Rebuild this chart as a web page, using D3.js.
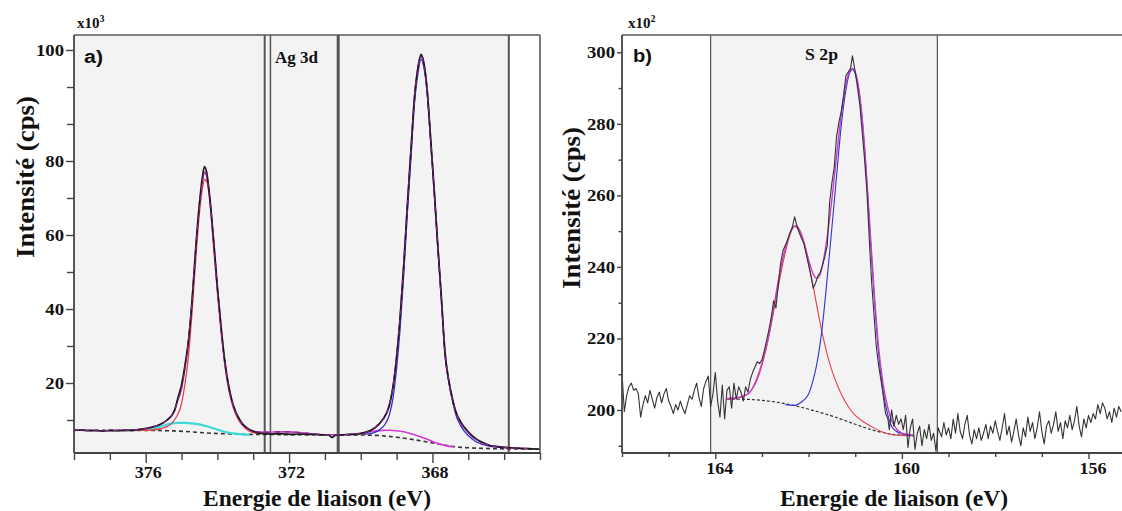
<!DOCTYPE html>
<html><head><meta charset="utf-8">
<script src="https://cdn.jsdelivr.net/npm/d3@7"></script>
<style>body{margin:0;background:#fff;} svg{display:block;}</style>
</head><body>
<svg id="chart" width="1122" height="511"></svg>
<script>
// ---------------- Panel a) Ag 3d (intensity in x10^3 cps, label units) ----------------
const agYMajor = [100, 80, 60, 40, 20];
const agYMinor = [93.33, 86.67, 70, 50, 30, 10];
const agXMajor = [376, 372, 368];
const agXMinor = [378, 377, 375, 374, 373, 371, 370, 369, 367, 366, 365];
const agRegionLines = [372.68, 372.52, 370.63, 365.87];
const agShade = [378, 365.87];
const agExp = [[378.0,7.2],[377.8,7.3],[377.6,7.1],[377.4,7.2],[377.2,7.0],[377.0,7.2],[376.8,7.1],[376.6,7.2],[376.4,7.2],[376.2,7.4],[376.0,7.7],[375.8,8.1],[375.6,8.8],[375.4,10.0],[375.2,12.5],[375.1,16.0],[375.0,19.5],[374.9,25.0],[374.8,32.0],[374.7,43.0],[374.6,57.0],[374.5,68.5],[374.42,75.5],[374.36,78.5],[374.3,77.0],[374.22,71.0],[374.1,58.0],[374.0,46.0],[373.9,35.5],[373.8,26.5],[373.7,20.0],[373.6,15.5],[373.5,12.5],[373.4,10.5],[373.3,9.0],[373.1,7.4],[372.9,6.6],[372.7,6.3],[372.5,6.2],[372.3,6.3],[372.1,6.2],[371.9,6.1],[371.7,6.2],[371.5,6.1],[371.3,6.1],[371.1,6.0],[370.9,6.0],[370.8,5.3],[370.7,5.9],[370.5,6.0],[370.3,6.1],[370.1,6.2],[369.9,6.6],[369.7,7.3],[369.5,8.8],[369.3,11.5],[369.2,14.0],[369.1,19.0],[369.0,27.0],[368.9,38.0],[368.8,52.0],[368.7,68.0],[368.6,82.0],[368.5,91.5],[368.4,97.0],[368.32,99.2],[368.25,98.0],[368.15,93.0],[368.05,84.0],[367.95,72.0],[367.85,57.0],[367.75,43.0],[367.65,28.0],[367.55,21.0],[367.45,16.0],[367.35,12.3],[367.2,9.3],[367.0,6.8],[366.8,5.0],[366.6,3.9],[366.4,3.1],[366.2,2.8],[366.0,2.6],[365.8,2.5],[365.5,2.3],[365.2,2.2],[365.0,2.1]];
const agEnvelope = [[378.0,7.3],[377.6,7.2],[377.2,7.1],[376.8,7.2],[376.4,7.3],[376.0,7.7],[375.8,8.1],[375.6,8.8],[375.4,10.0],[375.2,12.4],[375.1,15.5],[375.0,18.5],[374.9,24.5],[374.8,32.0],[374.7,43.0],[374.6,56.5],[374.5,68.0],[374.42,74.5],[374.36,77.0],[374.3,76.0],[374.22,70.5],[374.1,57.5],[374.0,45.5],[373.9,35.0],[373.8,26.0],[373.7,19.8],[373.6,15.3],[373.5,12.3],[373.4,10.3],[373.3,8.8],[373.1,7.4],[372.9,6.8],[372.6,6.7],[372.3,6.8],[372.0,6.8],[371.7,6.6],[371.4,6.3],[371.1,6.1],[370.8,6.0],[370.5,6.0],[370.2,6.2],[369.9,6.6],[369.7,7.3],[369.5,8.8],[369.3,11.5],[369.2,14.2],[369.1,19.0],[369.0,27.0],[368.9,38.0],[368.8,52.0],[368.7,68.0],[368.6,82.0],[368.5,91.5],[368.4,97.0],[368.32,98.8],[368.25,97.8],[368.15,92.8],[368.05,83.8],[367.95,71.8],[367.85,56.8],[367.75,42.5],[367.65,28.5],[367.55,21.0],[367.45,16.0],[367.35,12.2],[367.2,9.0],[367.0,6.6],[366.8,4.9],[366.6,3.8],[366.4,3.1],[366.2,2.8],[366.0,2.6],[365.6,2.4],[365.2,2.2]];
const agRed = [[376.2,7.2],[375.8,7.3],[375.4,8.2],[375.2,10.0],[375.0,14.5],[374.9,20.0],[374.8,28.0],[374.7,40.0],[374.6,54.0],[374.5,66.0],[374.42,72.5],[374.35,75.0],[374.28,74.0],[374.2,68.0],[374.1,56.0],[374.0,44.5],[373.9,34.0],[373.8,25.5],[373.7,19.0],[373.6,14.8],[373.5,11.8],[373.4,9.8],[373.2,7.6],[373.0,6.6],[372.8,6.3]];
const agCyan = [[375.9,7.4],[375.7,7.9],[375.5,8.5],[375.3,9.0],[375.1,9.2],[374.9,9.25],[374.7,9.1],[374.5,8.8],[374.3,8.3],[374.1,7.7],[373.9,7.1],[373.7,6.6],[373.5,6.3],[373.3,6.1],[373.1,6.0]];
const agBlue = [[369.9,6.2],[369.7,6.4],[369.5,7.2],[369.3,9.2],[369.2,11.5],[369.1,16.0],[369.0,24.0],[368.9,35.0],[368.8,49.5],[368.7,66.0],[368.6,80.5],[368.5,90.5],[368.4,96.0],[368.32,98.3],[368.25,97.2],[368.15,92.3],[368.05,83.5],[367.95,71.5],[367.85,56.5],[367.75,42.5],[367.65,27.5],[367.55,20.5],[367.45,15.5],[367.35,11.5],[367.2,8.2],[367.0,5.8],[366.8,4.2],[366.6,3.4],[366.4,2.9],[366.2,2.7],[366.0,2.5]];
const agMagentaSat = [[370.2,6.1],[370.0,6.3],[369.8,6.7],[369.6,7.0],[369.4,7.2],[369.2,7.25],[369.0,7.1],[368.8,6.8],[368.6,6.3],[368.4,5.7],[368.2,5.0],[368.0,4.2],[367.8,3.5],[367.6,3.0],[367.4,2.8]];
const agBackground = [[378.0,7.25],[377.0,7.2],[376.2,7.2],[375.6,7.15],[375.2,7.05],[374.9,6.9],[374.6,6.7],[374.3,6.5],[374.0,6.35],[373.7,6.25],[373.4,6.15],[373.0,6.1],[372.0,6.05],[371.0,6.0],[370.0,5.95],[369.6,5.85],[369.3,5.65],[369.0,5.35],[368.7,4.95],[368.4,4.5],[368.1,4.0],[367.8,3.45],[367.5,2.95],[367.2,2.6],[366.9,2.45],[366.5,2.3],[366.0,2.2],[365.5,2.15],[365.0,2.1]];

// ---------------- Panel b) S 2p (intensity in x10^2 cps) ----------------
const sYMajor = [300, 280, 260, 240, 220, 200];
const sYMinor = [290, 270, 250, 230, 210, 190];
const sXMajor = [164, 160, 156];
const sXMinor = [166, 165, 163, 162, 161, 159, 158, 157, 155];
const sRegionLines = [164.1, 159.24];
const sShade = [164.1, 159.24];
const sExp = [[166.00,210.5],[165.95,199.5],[165.90,204.0],[165.85,206.5],[165.80,207.5],[165.75,205.5],[165.70,206.0],[165.65,204.5],[165.60,198.0],[165.55,201.5],[165.50,204.0],[165.45,202.0],[165.40,205.5],[165.35,203.0],[165.30,200.5],[165.25,203.5],[165.20,205.0],[165.15,202.0],[165.10,204.5],[165.05,206.0],[165.00,202.5],[164.95,201.0],[164.90,199.0],[164.85,201.5],[164.80,200.0],[164.75,202.5],[164.70,200.5],[164.65,199.0],[164.60,201.5],[164.55,204.0],[164.50,203.0],[164.45,205.5],[164.40,207.5],[164.35,203.5],[164.30,201.0],[164.25,206.0],[164.20,208.0],[164.15,209.5],[164.10,201.0],[164.05,204.5],[164.00,210.5],[163.95,202.5],[163.90,198.0],[163.85,207.0],[163.80,197.5],[163.75,205.5],[163.70,206.5],[163.65,200.5],[163.60,207.5],[163.55,203.0],[163.50,206.5],[163.45,205.0],[163.40,202.5],[163.35,206.5],[163.30,205.0],[163.25,208.5],[163.20,210.5],[163.15,212.0],[163.10,213.5],[163.05,213.0],[163.00,214.0],[162.95,216.5],[162.90,219.5],[162.85,222.5],[162.80,226.0],[162.75,230.5],[162.70,228.5],[162.65,235.0],[162.60,241.0],[162.55,244.5],[162.50,246.0],[162.45,247.5],[162.40,249.5],[162.35,251.0],[162.30,254.0],[162.25,251.5],[162.20,249.5],[162.15,248.0],[162.10,246.5],[162.05,243.5],[162.00,240.5],[161.95,237.5],[161.90,234.0],[161.85,235.5],[161.80,237.5],[161.75,238.5],[161.70,240.5],[161.65,243.0],[161.60,246.0],[161.55,258.0],[161.50,263.5],[161.45,268.0],[161.40,276.5],[161.35,280.5],[161.30,283.5],[161.25,288.0],[161.20,293.5],[161.15,294.5],[161.10,295.5],[161.06,299.0],[161.00,294.5],[160.95,290.0],[160.90,285.0],[160.85,277.5],[160.80,270.0],[160.75,261.0],[160.70,248.0],[160.65,236.0],[160.60,227.0],[160.55,218.0],[160.50,212.5],[160.45,208.5],[160.40,204.0],[160.35,199.0],[160.30,197.5],[160.27,194.5],[160.22,200.0],[160.17,195.5],[160.12,198.5],[160.07,196.0],[160.02,197.5],[159.97,194.5],[159.92,198.5],[159.87,189.5],[159.82,195.0],[159.77,197.5],[159.72,189.0],[159.67,193.5],[159.62,195.5],[159.57,190.0],[159.52,194.5],[159.47,192.0],[159.42,196.0],[159.37,191.5],[159.32,193.5],[159.27,188.5],[159.22,195.0],[159.15,192.5],[159.10,196.5],[159.05,193.0],[159.00,195.0],[158.95,192.0],[158.90,197.5],[158.85,193.5],[158.80,199.0],[158.75,194.0],[158.70,192.0],[158.65,196.0],[158.60,198.5],[158.55,193.0],[158.50,190.5],[158.45,194.5],[158.40,192.0],[158.35,195.0],[158.30,191.5],[158.25,193.5],[158.20,196.0],[158.15,192.0],[158.10,195.5],[158.05,193.5],[158.00,197.0],[157.95,194.0],[157.90,191.5],[157.85,195.0],[157.80,199.0],[157.75,193.0],[157.70,195.5],[157.65,191.0],[157.60,194.0],[157.55,197.5],[157.50,193.0],[157.45,190.0],[157.40,195.0],[157.35,192.5],[157.30,198.0],[157.25,194.0],[157.20,196.5],[157.15,192.0],[157.10,195.0],[157.05,199.5],[157.00,194.0],[156.95,190.5],[156.90,195.5],[156.85,197.0],[156.80,193.5],[156.75,196.0],[156.70,199.5],[156.65,194.0],[156.60,196.5],[156.55,192.0],[156.50,197.0],[156.45,195.0],[156.40,198.5],[156.35,194.5],[156.30,197.0],[156.25,201.0],[156.20,195.5],[156.15,192.5],[156.10,197.5],[156.05,195.0],[156.00,198.5],[155.95,196.5],[155.90,199.0],[155.85,197.5],[155.80,201.5],[155.75,199.0],[155.70,202.0],[155.65,200.5],[155.60,197.5],[155.55,199.5],[155.50,196.5],[155.45,200.5],[155.40,198.0],[155.35,201.0],[155.30,199.5]];
const sEnvelope = [[163.75,203.2],[163.5,203.5],[163.3,204.5],[163.15,207.5],[163.05,211.0],[162.95,215.5],[162.85,221.0],[162.75,228.5],[162.65,236.0],[162.55,242.5],[162.45,247.5],[162.35,250.8],[162.28,251.5],[162.2,250.5],[162.1,247.0],[162.0,242.0],[161.9,238.0],[161.82,236.8],[161.75,238.0],[161.68,242.0],[161.6,248.5],[161.5,259.0],[161.4,271.0],[161.3,282.5],[161.2,291.0],[161.12,294.8],[161.06,295.5],[161.0,294.5],[160.92,289.5],[160.85,281.5],[160.77,268.0],[160.7,254.0],[160.6,234.0],[160.5,217.5],[160.4,207.0],[160.3,200.5],[160.2,196.5],[160.1,194.5],[160.0,193.5],[159.75,193.0]];
const sRed = [[163.75,203.0],[163.5,203.4],[163.3,204.5],[163.1,208.5],[162.95,215.0],[162.8,224.0],[162.65,234.5],[162.5,244.0],[162.4,249.0],[162.3,251.3],[162.2,250.0],[162.1,246.5],[162.0,241.0],[161.9,234.5],[161.8,227.5],[161.7,221.0],[161.6,215.5],[161.5,211.0],[161.4,207.5],[161.3,204.5],[161.2,202.0],[161.1,200.0],[161.0,198.5],[160.8,196.5],[160.6,195.0],[160.4,193.8],[160.2,193.1],[159.9,192.8],[159.75,192.8]];
const sBlue = [[162.5,201.5],[162.3,201.3],[162.2,201.8],[162.1,202.8],[162.0,204.5],[161.9,208.5],[161.8,214.5],[161.7,224.0],[161.6,237.0],[161.5,251.0],[161.4,265.5],[161.3,279.5],[161.2,289.5],[161.12,294.3],[161.06,295.2],[161.0,294.0],[160.92,289.0],[160.85,281.0],[160.77,267.5],[160.7,253.0],[160.6,233.0],[160.5,216.0],[160.4,205.0],[160.3,198.5],[160.2,195.0],[160.0,193.3],[159.75,192.8]];
const sBackground = [[163.75,203.0],[163.4,203.0],[163.0,202.7],[162.6,202.0],[162.2,200.9],[161.8,199.5],[161.4,197.9],[161.0,196.0],[160.6,194.3],[160.2,193.2],[159.75,192.8]];

// ---------------- drawing ----------------
const svg = d3.select("#chart");
const serif = "'Liberation Serif','Times New Roman',serif";
const sans = "'Liberation Sans',Arial,sans-serif";
const defs = svg.append("defs");

function stretchTo(sel, k) {
  sel.each(function () {
    const w = this.getComputedTextLength();
    d3.select(this).attr("textLength", w * k).attr("lengthAdjust", "spacingAndGlyphs");
  });
}

function drawPanel(p) {
  const {x, y, L, R, T, B, id} = p;
  svg.append("rect").attr("x", L).attr("y", T).attr("width", R - L).attr("height", B - T).attr("fill", "#fff");
  svg.append("rect").attr("x", x(p.shade[0])).attr("y", T)
    .attr("width", x(p.shade[1]) - x(p.shade[0])).attr("height", B - T).attr("fill", "#f3f3f3");
  p.regionLines.forEach((e, i) => {
    svg.append("line").attr("x1", x(e)).attr("x2", x(e)).attr("y1", T).attr("y2", B)
      .attr("stroke", "#555").attr("stroke-width", p.regionWidths[i]);
  });
  defs.append("clipPath").attr("id", "clip" + id).append("rect")
    .attr("x", L).attr("y", T).attr("width", R - L).attr("height", B - T);
  const g = svg.append("g").attr("clip-path", `url(#clip${id})`);
  p.series.forEach(s => {
    const line = d3.line().x(d => x(d[0])).y(d => y(d[1])).curve(s.curve || d3.curveMonotoneX);
    g.append("path").datum(s.data).attr("d", line).attr("fill", "none")
      .attr("stroke", s.color).attr("stroke-width", s.width)
      .attr("stroke-dasharray", s.dash || null).attr("stroke-linejoin", "round");
  });
  svg.append("line").attr("x1", L).attr("x2", p.frameRight).attr("y1", T).attr("y2", T)
    .attr("stroke", "#5a5a5a").attr("stroke-width", 1.6);
  if (p.rightBorder) svg.append("line").attr("x1", R).attr("x2", R).attr("y1", T).attr("y2", B)
    .attr("stroke", "#5a5a5a").attr("stroke-width", 1.6);
  svg.append("line").attr("x1", L).attr("x2", L).attr("y1", T).attr("y2", B)
    .attr("stroke", "#444").attr("stroke-width", 1.8);
  svg.append("line").attr("x1", L).attr("x2", p.frameRight).attr("y1", B).attr("y2", B)
    .attr("stroke", "#444").attr("stroke-width", 1.8);

  const styleAxis = (ax) => {
    ax.select(".domain").remove();
    ax.selectAll("line").attr("stroke", "#444").attr("stroke-width", 1.4);
    ax.selectAll("text").attr("font-family", serif).attr("font-weight", "bold")
      .attr("font-size", 17).attr("fill", "#111");
  };
  const xMaj = svg.append("g").attr("transform", `translate(0,${B})`)
    .call(d3.axisBottom(x).tickValues(p.xMajor).tickSize(p.xTickMaj).tickPadding(3).tickFormat(d3.format("d")));
  styleAxis(xMaj);
  xMaj.selectAll("text").attr("dx", p.xLabelShift);
  stretchTo(xMaj.selectAll("text"), 1.06);
  const xMin = svg.append("g").attr("transform", `translate(0,${B})`)
    .call(d3.axisBottom(x).tickValues(p.xMinor).tickSize(p.xTickMin).tickFormat(""));
  styleAxis(xMin);
  const yMaj = svg.append("g").attr("transform", `translate(${L},0)`)
    .call(d3.axisLeft(y).tickValues(p.yMajor).tickSize(p.yTickMaj).tickPadding(2).tickFormat(d3.format("d")));
  styleAxis(yMaj);
  stretchTo(yMaj.selectAll("text"), 1.1);
  const yMin = svg.append("g").attr("transform", `translate(${L},0)`)
    .call(d3.axisLeft(y).tickValues(p.yMinor).tickSize(p.yTickMin).tickFormat(""));
  styleAxis(yMin);

  const mult = svg.append("text").attr("x", p.multX).attr("y", 28).attr("font-family", serif)
    .attr("font-weight", "bold").attr("font-size", 15).attr("fill", "#111").text("x10");
  mult.append("tspan").attr("font-size", 10).attr("dy", -6).text(p.multExp);

  svg.append("text").attr("x", p.tagX).attr("y", p.tagY).attr("font-family", sans)
    .attr("font-weight", "bold").attr("font-size", 18).attr("fill", "#111")
    .attr("textLength", 19).attr("lengthAdjust", "spacingAndGlyphs").text(p.tag);

  svg.append("text").attr("x", p.peakX).attr("y", p.peakY).attr("font-family", serif)
    .attr("font-weight", "bold").attr("font-size", 16).attr("fill", "#111")
    .attr("textLength", p.peakLen).attr("lengthAdjust", "spacingAndGlyphs").text(p.peakLabel);

  svg.append("text").attr("x", p.xTitleX).attr("y", 506).attr("text-anchor", "middle")
    .attr("font-family", serif).attr("font-weight", "bold").attr("font-size", 23).attr("fill", "#111")
    .attr("textLength", 228).attr("lengthAdjust", "spacingAndGlyphs").text("Energie de liaison  (eV)");

  svg.append("text").attr("transform", `translate(${p.yTitleX},${p.yTitleY}) rotate(-90)`)
    .attr("text-anchor", "middle").attr("dy", "0.35em")
    .attr("font-family", serif).attr("font-weight", "bold").attr("font-size", 25).attr("fill", "#111")
    .attr("textLength", 162).attr("lengthAdjust", "spacingAndGlyphs").text("Intensité (cps)");
}

// Panel a
const xA = d3.scaleLinear().domain([378, 365]).range([74, 540]);
const yA = d3.scaleLinear().domain([20, 40, 60, 80, 100]).range([383, 309, 235, 161, 50]);
drawPanel({
  id: "a", x: xA, y: yA, L: 74, R: 540, T: 35, B: 453, frameRight: 540, rightBorder: true,
  shade: agShade, regionLines: agRegionLines, regionWidths: [2, 1.5, 3, 2],
  series: [
    {data: agBackground, color: "#333", width: 1.6, dash: "4,3"},
    {data: agCyan, color: "#3fd9d9", width: 2.2},
    {data: agMagentaSat, color: "#d23ad2", width: 1.6},
    {data: agRed, color: "#e5404a", width: 1.3},
    {data: agBlue, color: "#3232d8", width: 1.3},
    {data: agEnvelope, color: "#c83cc8", width: 1.6},
    {data: agExp, color: "#1a1a1a", width: 1.7},
    {data: agEnvelope, color: "#7a2a7a", width: 1.2, dash: "5,5"}
  ],
  xMajor: agXMajor, xMinor: agXMinor, yMajor: agYMajor, yMinor: agYMinor,
  xTickMaj: 10, xTickMin: 7, yTickMaj: 8, yTickMin: 7, xLabelShift: 2,
  multX: 77, multExp: "3", tag: "a)", tagX: 84, tagY: 63,
  peakLabel: "Ag 3d", peakX: 275, peakY: 63, peakLen: 43,
  xTitleX: 317, yTitleX: 25, yTitleY: 177
});

// Panel b
const xB = d3.scaleLinear().domain([166, 155]).range([622, 1135.15]);
const yB = d3.scaleLinear().domain([200, 300]).range([410, 52.3]);
drawPanel({
  id: "b", x: xB, y: yB, L: 622, R: 1122, T: 35, B: 453, frameRight: 1122, rightBorder: false,
  shade: sShade, regionLines: sRegionLines, regionWidths: [1.2, 1.2],
  series: [
    {data: sBackground, color: "#333", width: 1.2, dash: "3,2"},
    {data: sRed, color: "#e5404a", width: 1.1},
    {data: sBlue, color: "#3232d8", width: 1.1},
    {data: sEnvelope, color: "#c83cc8", width: 1.4},
    {data: sExp, color: "#333", width: 1.1, curve: d3.curveLinear}
  ],
  xMajor: sXMajor, xMinor: sXMinor, yMajor: sYMajor, yMinor: sYMinor,
  xTickMaj: 6, xTickMin: 4, yTickMaj: 5, yTickMin: 3.5, xLabelShift: 4,
  multX: 628, multExp: "2", tag: "b)", tagX: 633, tagY: 62,
  peakLabel: "S 2p", peakX: 805, peakY: 60, peakLen: 33,
  xTitleX: 894, yTitleX: 571, yTitleY: 208
});
</script>
</body></html>
